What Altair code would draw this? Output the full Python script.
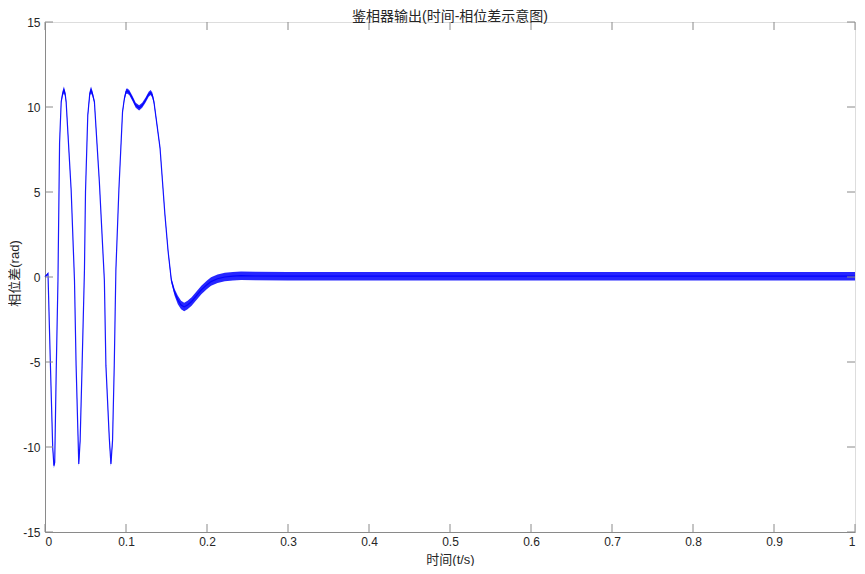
import altair as alt
import pandas as pd

# time (s)
t_vals = [0.0000, 0.0037, 0.0067, 0.0095, 0.0110, 0.0120, 0.0139, 0.0160, 0.0180, 0.0200,
          0.0218, 0.0233, 0.0248, 0.0261, 0.0323, 0.0364, 0.0384, 0.0405, 0.0417, 0.0434,
          0.0458, 0.0487, 0.0500, 0.0528, 0.0553, 0.0568, 0.0585, 0.0610, 0.0671, 0.0733,
          0.0752, 0.0794, 0.0814, 0.0834, 0.0855, 0.0875, 0.0912, 0.0957, 0.0980, 0.1000,
          0.1012, 0.1040, 0.1080, 0.1120, 0.1162, 0.1200, 0.1240, 0.1280, 0.1304, 0.1325,
          0.1345, 0.1370, 0.1420, 0.1480, 0.1520, 0.1560, 0.1600, 0.1640, 0.1680, 0.1718,
          0.1760, 0.1810, 0.1870, 0.1930, 0.2000, 0.2050, 0.2130, 0.2220, 0.2320, 0.2420,
          0.2600, 0.3000, 0.4000, 0.5000, 0.6000, 0.7000, 0.8000, 0.9000, 1.0000]
# phase difference, centre of the trace (rad)
phase_vals = [0.00, 0.20, -5.2, -10.0, -11.1, -10.9, -5.4, -0.2, 7.9, 10.3,
              10.8, 11.0, 10.8, 10.3, 5.1, -0.2, -5.2, -8.9, -11.0, -9.6,
              -5.2, 0.4, 5.0, 9.5, 10.8, 11.0, 10.8, 10.3, 5.6, -0.2,
              -5.2, -9.5, -11.0, -9.6, -5.2, 0.4, 5.1, 9.7, 10.5, 10.9,
              10.95, 10.85, 10.5, 10.1, 9.95, 10.1, 10.4, 10.75, 10.85, 10.7,
              10.3, 9.4, 7.6, 3.7, 1.5, -0.2, -0.9, -1.35, -1.65, -1.76,
              -1.65, -1.44, -1.10, -0.76, -0.45, -0.27, -0.10, 0.00, 0.05, 0.08,
              0.06, 0.05, 0.05, 0.05, 0.05, 0.05, 0.05, 0.05, 0.05]
# half-height of the high-frequency ripple band (rad)
ripple_vals = [0.05, 0.05, 0.05, 0.10, 0.15, 0.10, 0.05, 0.05, 0.05, 0.10,
               0.15, 0.20, 0.15, 0.10, 0.05, 0.05, 0.05, 0.10, 0.15, 0.10,
               0.05, 0.05, 0.05, 0.10, 0.15, 0.20, 0.15, 0.10, 0.05, 0.05,
               0.05, 0.10, 0.15, 0.10, 0.05, 0.05, 0.05, 0.10, 0.12, 0.15,
               0.15, 0.15, 0.15, 0.15, 0.15, 0.15, 0.15, 0.15, 0.15, 0.15,
               0.12, 0.10, 0.08, 0.08, 0.10, 0.15, 0.20, 0.25, 0.25, 0.25,
               0.25, 0.25, 0.25, 0.25, 0.25, 0.25, 0.25, 0.25, 0.25, 0.25,
               0.25, 0.25, 0.25, 0.25, 0.25, 0.25, 0.25, 0.25, 0.25]

x_ticks = [0, 0.1, 0.2, 0.3, 0.4, 0.5, 0.6, 0.7, 0.8, 0.9, 1]
y_ticks = [-15, -10, -5, 0, 5, 10, 15]

title_text = "鉴相器输出(时间-相位差示意图)"
x_title = "时间(t/s)"
y_title = "相位差(rad)"

W, H = 810, 510
TICK = 8
AXIS_GRAY = "#8a8a8a"
TEXT = "#262626"
BLUE = "#0000ff"
FONT = "Liberation Sans, Noto Sans CJK SC"

df = pd.DataFrame({"t": t_vals, "v": phase_vals, "r": ripple_vals})
df["lo"] = df["v"] - df["r"]
df["hi"] = df["v"] + df["r"]

xs = alt.Scale(domain=[0, 1], nice=False, zero=False)
ys = alt.Scale(domain=[-15, 15], nice=False, zero=False)

x_axis = alt.Axis(values=x_ticks, labelExpr="datum.value + ''", grid=False, tickSize=0,
                  domainColor=AXIS_GRAY, labelFont=FONT, labelFontSize=12, labelColor=TEXT,
                  labelPadding=4, title=x_title, titleFont=FONT, titleFontSize=13,
                  titleFontWeight="normal", titleColor=TEXT, titleBaseline="alphabetic",
                  titleX=W / 2, titleY=31.5, titleAlign="center")
y_axis = alt.Axis(values=y_ticks, labelExpr="datum.value + ''", grid=False, tickSize=0,
                  domainColor=AXIS_GRAY, labelFont=FONT, labelFontSize=12, labelColor=TEXT,
                  labelPadding=5, title=y_title, titleFont=FONT, titleFontSize=13,
                  titleFontWeight="normal", titleColor=TEXT, titleAngle=270,
                  titleBaseline="alphabetic", titleAlign="center", titleX=-27, titleY=H / 2 - 4)

base = alt.Chart(df)
band = base.mark_area(color=BLUE, opacity=0.85).encode(
    x=alt.X("t:Q", scale=xs, axis=x_axis),
    y=alt.Y("lo:Q", scale=ys, axis=y_axis),
    y2="hi:Q",
)
line = base.mark_line(color=BLUE, strokeWidth=1.2, opacity=0.9).encode(
    x=alt.X("t:Q", scale=xs),
    y=alt.Y("v:Q", scale=ys),
)

xt = pd.DataFrame({"x": x_ticks})
yt = pd.DataFrame({"y": y_ticks})
tick_bottom = alt.Chart(xt).mark_rule(color=AXIS_GRAY, strokeWidth=1).encode(
    x=alt.X("x:Q", scale=xs), y=alt.value(H), y2=alt.value(H - TICK))
tick_top = alt.Chart(xt).mark_rule(color=AXIS_GRAY, strokeWidth=1).encode(
    x=alt.X("x:Q", scale=xs), y=alt.value(0), y2=alt.value(TICK))
tick_left = alt.Chart(yt).mark_rule(color=AXIS_GRAY, strokeWidth=1).encode(
    y=alt.Y("y:Q", scale=ys), x=alt.value(0), x2=alt.value(TICK))
tick_right = alt.Chart(yt).mark_rule(color=AXIS_GRAY, strokeWidth=1).encode(
    y=alt.Y("y:Q", scale=ys), x=alt.value(W), x2=alt.value(W - TICK))

title_df = pd.DataFrame({"label": [title_text]})
title_mark = alt.Chart(title_df).mark_text(
    font=FONT, fontSize=14, color=TEXT, align="center", baseline="alphabetic"
).encode(text="label:N", x=alt.value(W / 2), y=alt.value(-1.5))

chart = alt.layer(band, line, tick_bottom, tick_top, tick_left, tick_right, title_mark).properties(
    width=W, height=H,
    autosize=alt.AutoSizeParams(type="none"),
    padding={"left": 37, "top": 14, "right": 2, "bottom": 34},
).configure_view(stroke=AXIS_GRAY, strokeWidth=1).configure(background="white")

chart.save("out.html", embed_options={"renderer": "svg", "actions": False})
